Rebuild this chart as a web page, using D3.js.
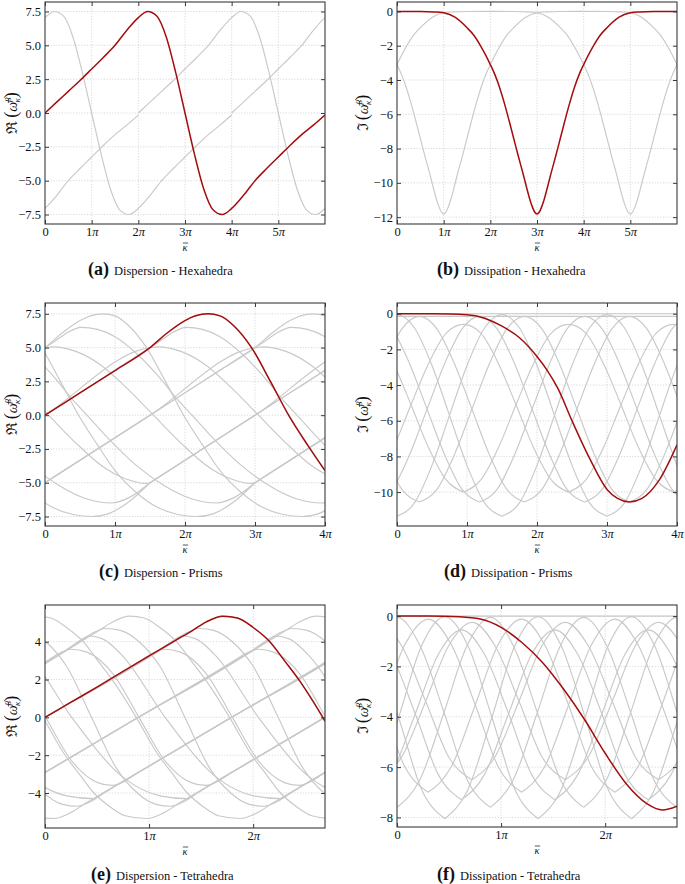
<!DOCTYPE html>
<html><head><meta charset="utf-8">
<script src="https://cdn.jsdelivr.net/npm/d3@7"></script>
<style>
body{margin:0;background:#fff;}
svg text{font-family:"Liberation Serif","Tinos","Times New Roman","DejaVu Serif",serif !important;fill:#111;}
</style></head><body>
<svg id="c" width="685" height="884"></svg>
<script>
// All kappa values are in units of pi.
// ---------------- (a) Dispersion - Hexahedra ----------------
const hexReRed = [[0,0],[0.25,0.8],[0.5,1.6],[0.75,2.4],[1,3.25],[1.25,4.1],[1.5,5.0],[1.75,6.1],[2,7.05],[2.2,7.5],[2.4,7.15],[2.6,5.6],[2.8,3.0],[3,0],[3.2,-3.0],[3.4,-5.6],[3.6,-7.15],[3.8,-7.5],[4,-7.05],[4.25,-6.1],[4.5,-5.0],[4.75,-4.1],[5,-3.25],[5.25,-2.4],[5.5,-1.6],[5.75,-0.9],[6,-0.15]];
const hexReGrayShifts = [2, 4];
const hexRePeriod = 6;
// ---------------- (b) Dissipation - Hexahedra ----------------
const hexImRed = [[0,0],[0.5,-0.005],[0.8,-0.03],[1,-0.08],[1.25,-0.35],[1.5,-0.95],[1.65,-1.4],[1.8,-2.05],[1.9,-2.55],[2.0,-3.1],[2.1,-3.7],[2.2,-4.45],[2.3,-5.35],[2.4,-6.35],[2.5,-7.4],[2.6,-8.45],[2.7,-9.45],[2.78,-10.3],[2.85,-11.0],[2.9,-11.4],[2.95,-11.7],[3,-11.82],[3.05,-11.7],[3.1,-11.4],[3.15,-11.0],[3.22,-10.3],[3.3,-9.45],[3.4,-8.45],[3.5,-7.4],[3.6,-6.35],[3.7,-5.35],[3.8,-4.45],[3.9,-3.7],[4.0,-3.1],[4.1,-2.55],[4.2,-2.05],[4.35,-1.4],[4.5,-0.95],[4.75,-0.35],[5,-0.08],[5.2,-0.03],[5.5,-0.005],[6,0]];
const hexImGrayShifts = [2, 4];
const hexImPeriod = 6;
// ---------------- (c) Dispersion - Prisms ----------------
const prismReRed = [[0,0],[0.5,1.65],[1,3.3],[1.5,5.0],[1.75,6.1],[2,7.0],[2.15,7.35],[2.33,7.5],[2.5,7.35],[2.7,6.6],[2.95,5.0],[3.22,2.5],[3.48,0],[3.75,-2.2],[4,-4.1]];
const prismReFamA = [[-1.5,-5.0],[0,0],[0.5,1.65],[1,3.3],[1.5,5.0],[1.75,6.1],[2,7.0],[2.15,7.35],[2.33,7.5],[2.5,7.35],[2.7,6.6],[2.95,5.0],[3.22,2.5],[3.48,0],[3.75,-2.2],[4,-4.1],[4.3,-5.7],[4.6,-6.8],[4.9,-7.35],[5.17,-7.5],[5.4,-7.3],[5.7,-6.4],[6.0,-5.0]];
const prismReFamB = [[-3.0,-5.0],[-1.5,0],[0,5.0],[0.15,5.5],[0.3,6.05],[0.52,6.5],[0.75,6.35],[1.0,5.8],[1.3,4.6],[1.6,3.0],[1.92,1.0],[2.1,0],[2.4,-1.7],[2.8,-3.7],[3.2,-5.2],[3.6,-6.2],[3.95,-6.5],[4.2,-6.1],[4.5,-5.0]];
const prismReFamC = [[-3.0,-5.0],[-1.5,0],[0,5.0],[0.12,5.05],[0.45,4.7],[0.8,3.7],[1.15,2.1],[1.55,0],[1.95,-2.1],[2.3,-3.7],[2.65,-4.7],[2.95,-5.05],[3.0,-5.0]];
const prismReShiftsAB = [0, 1.5, 3, 4.5, 6];
const prismReShiftsC = [0, 1.5, 3, 4.5];
const prismRePeriodAB = 7.5, prismRePeriodC = 6;
// ---------------- (d) Dissipation - Prisms ----------------
const prismImRed = [[0,0],[0.5,-0.005],[1,-0.06],[1.25,-0.25],[1.5,-0.7],[1.75,-1.35],[2.0,-2.4],[2.15,-3.2],[2.3,-4.2],[2.5,-6.0],[2.75,-8.1],[3.0,-9.85],[3.15,-10.35],[3.32,-10.55],[3.5,-10.35],[3.75,-9.3],[4,-7.35]];
const prismImFamA = [[0.32,-10.55],[0.57,-9.85],[0.82,-7.9],[1.07,-5.35],[1.32,-2.8],[1.57,-0.85],[1.82,-0.15],[2.07,-0.85],[2.32,-2.8],[2.57,-5.35],[2.82,-7.9],[3.07,-9.85],[3.32,-10.55]];
const prismImFamB = [[0,-11.35],[0.25,-10.6],[0.5,-8.5],[0.75,-5.7],[1.0,-2.9],[1.25,-0.8],[1.5,-0.05],[1.75,-0.8],[2.0,-2.9],[2.25,-5.7],[2.5,-8.5],[2.75,-10.6],[3.0,-11.35]];
const prismImFamC = [[1.18,-10.55],[1.43,-9.85],[1.68,-7.9],[1.93,-5.35],[2.18,-2.8],[2.43,-0.85],[2.68,-0.15],[2.93,-0.85],[3.18,-2.8],[3.43,-5.35],[3.68,-7.9],[3.93,-9.85],[4.18,-10.55]];
const prismImFamD = [[0.95,-10.0],[1.2,-9.3],[1.45,-7.5],[1.7,-5.1],[1.95,-2.8],[2.2,-1.1],[2.45,-0.6],[2.7,-1.1],[2.95,-2.8],[3.2,-5.1],[3.45,-7.5],[3.7,-9.3],[3.95,-10.0]];
const prismImShifts = [0, 1.5];
const prismImPeriod = 3;
const prismImFlat = [0, -0.15];
// ---------------- (e) Dispersion - Tetrahedra ----------------
const tetReRed = [[0,0],[0.25,0.8],[0.5,1.6],[0.75,2.43],[1,3.25],[1.25,4.06],[1.42,4.6],[1.55,5.05],[1.71,5.35],[1.85,5.25],[2,4.75],[2.16,4.0],[2.3,3.0],[2.45,1.9],[2.58,0.8],[2.69,-0.2]];
const tetReFamA = [[-1.42,-4.6],[0,0],[1.42,4.6],[1.55,5.05],[1.71,5.35],[1.85,5.25],[2.0,4.75],[2.16,4.0],[2.3,3.0],[2.45,1.9],[2.67,0],[2.87,-1.9],[3.02,-3.0],[3.16,-4.0],[3.32,-4.75],[3.46,-5.2],[3.67,-5.35],[3.83,-5.05],[3.96,-4.6]];
const tetReFamB = [[-1.23,-4.0],[0,0],[1.23,4.0],[1.35,4.45],[1.48,4.7],[1.62,4.6],[1.8,4.0],[2.0,2.7],[2.24,0],[2.48,-2.7],[2.68,-4.0],[2.86,-4.6],[3.0,-4.7],[3.13,-4.45],[3.25,-4.0]];
const tetReFamC = [[-1.11,-3.6],[0,0],[1.11,3.6],[1.2,3.95],[1.32,4.3],[1.45,4.15],[1.65,3.2],[2.05,0],[2.55,-3.2],[2.9,-4.15],[3.16,-4.3],[3.27,-3.95],[3.37,-3.6]];
const tetReFamD = [[-0.92,-3.0],[0,0],[0.92,3.0],[1.02,3.35],[1.15,3.6],[1.3,3.45],[1.55,2.3],[1.8,0],[2.05,-2.3],[2.3,-3.45],[2.44,-3.6],[2.57,-3.35],[2.667,-3.0]];
const tetShifts6 = [0, 0.897, 1.793, 2.69, 3.587, 4.483];
const tetShifts5 = [0, 0.897, 1.793, 2.69, 3.587];
const tetShifts4 = [0, 0.897, 1.793, 2.69];
const tetPeriod6 = 5.38, tetPeriod5 = 4.483, tetPeriod4 = 3.587;
// ---------------- (f) Dissipation - Tetrahedra ----------------
const tetImRed = [[0,0],[0.3,0],[0.6,-0.03],[0.8,-0.12],[1,-0.45],[1.2,-1.05],[1.4,-1.85],[1.6,-2.9],[1.8,-4.1],[2,-5.45],[2.2,-6.65],[2.4,-7.45],[2.55,-7.7],[2.69,-7.55]];
const tetImFam1 = [[0.46,-8.05],[0.68,-6.9],[0.91,-4.05],[1.13,-1.2],[1.357,-0.02],[1.58,-1.2],[1.81,-4.05],[2.03,-6.9],[2.253,-8.05]];
const tetImFam2 = [[0,-7.6],[0.22,-6.5],[0.45,-3.85],[0.67,-1.2],[0.897,-0.05],[1.12,-1.2],[1.35,-3.85],[1.57,-6.5],[1.793,-7.6]];
const tetImFam3 = [[0.3,-7.0],[0.52,-6.0],[0.75,-3.55],[0.97,-1.15],[1.197,-0.12],[1.42,-1.15],[1.65,-3.55],[1.87,-6.0],[2.093,-7.0]];
const tetImFam4 = [[0.72,-6.5],[0.94,-5.6],[1.17,-3.4],[1.39,-1.2],[1.617,-0.25],[1.84,-1.2],[2.07,-3.4],[2.29,-5.6],[2.513,-6.5]];
const tetImFam5 = [[0.62,-7.3],[0.84,-6.3],[1.07,-3.9],[1.29,-1.55],[1.517,-0.55],[1.74,-1.55],[1.97,-3.9],[2.19,-6.3],[2.413,-7.3]];
const tetImShifts = [0, 0.897];
const tetImPeriod = 1.793;
const tetImFlat = [0];

// ---------------- drawing ----------------
const svg = d3.select("#c");
const GRAY = "#c9c9c9", RED = "#a30d0d", FRAME = "#3a3a3a";
const SERIF = "'Liberation Serif','Tinos','Times New Roman','DejaVu Serif',serif";

function tile(profile, shifts, period, xMax) {
  const out = [];
  const a = profile[0][0], b = profile[profile.length-1][0];
  shifts.forEach(s => {
    for (let r = -5; r <= 5; r++) {
      const off = s + r * period;
      if (b + off < 0 || a + off > xMax) continue;
      out.push(profile.map(([k, v]) => [k + off, v]));
    }
  });
  return out;
}

let clipId = 0;
function panel(o) {
  const x = d3.scaleLinear().domain([0, o.xMax]).range([o.x0, o.x1]);
  const y = d3.scaleLinear().domain(o.yDom).range([o.y1, o.y0]);
  const g = svg.append("g");
  const id = "clip" + (clipId++);
  g.append("clipPath").attr("id", id).append("rect")
    .attr("x", o.x0).attr("y", o.y0).attr("width", o.x1 - o.x0).attr("height", o.y1 - o.y0);
  const grid = g.append("g").attr("stroke", "#cfcfcf").attr("stroke-width", 0.8).attr("stroke-dasharray", "1.2,1.6");
  o.xTicks.forEach(t => { if (t > 0 && t < o.xMax) grid.append("line").attr("x1", x(t)).attr("x2", x(t)).attr("y1", o.y0).attr("y2", o.y1); });
  o.yTicks.forEach(t => grid.append("line").attr("x1", o.x0).attr("x2", o.x1).attr("y1", y(t)).attr("y2", y(t)));
  const line = d3.line().x(d => x(d[0])).y(d => y(d[1])).curve(d3.curveMonotoneX);
  const cg = g.append("g").attr("clip-path", `url(#${id})`);
  o.gray.forEach(p => cg.append("path").attr("d", line(p)).attr("fill", "none").attr("stroke", GRAY).attr("stroke-width", 1.15));
  cg.append("path").attr("d", line(o.red)).attr("fill", "none").attr("stroke", RED).attr("stroke-width", 1.5);
  g.append("rect").attr("x", o.x0).attr("y", o.y0).attr("width", o.x1 - o.x0).attr("height", o.y1 - o.y0)
    .attr("fill", "none").attr("stroke", FRAME).attr("stroke-width", 1.1);
  const axB = d3.axisBottom(x).tickValues(o.xTicks).tickSize(-4).tickPadding(3.5).tickFormat(o.xFmt);
  const axT = d3.axisTop(x).tickValues(o.xTicks).tickSize(-4).tickFormat("");
  const axL = d3.axisLeft(y).tickValues(o.yTicks).tickSize(-4).tickPadding(4).tickFormat(o.yFmt);
  const axR = d3.axisRight(y).tickValues(o.yTicks).tickSize(-4).tickFormat("");
  [[axB, `translate(0,${o.y1})`], [axT, `translate(0,${o.y0})`], [axL, `translate(${o.x0},0)`], [axR, `translate(${o.x1},0)`]].forEach(([ax, tr]) => {
    const a = g.append("g").attr("transform", tr).call(ax);
    a.attr("font-family", null);
    a.select(".domain").remove();
    a.selectAll("line").attr("stroke", FRAME);
    a.selectAll("text").attr("font-size", 12.5).style("font-family", SERIF).attr("fill", "#111");
  });
  const cx = (o.x0 + o.x1) / 2, by = o.y1 + 26.5;
  g.append("text").attr("x", cx).attr("y", by).attr("text-anchor", "middle")
    .attr("font-size", 10.5).attr("font-style", "italic").style("font-family", SERIF).text("κ");
  g.append("line").attr("x1", cx - 2.2).attr("x2", cx + 3.2).attr("y1", by - 7.5).attr("y2", by - 7.5)
    .attr("stroke", "#111").attr("stroke-width", 0.7);
  const cy = (o.y0 + o.y1) / 2;
  const yl = g.append("text").attr("transform", `translate(${o.ylx},${cy}) rotate(-90)`).attr("text-anchor", "middle").style("font-family", SERIF);
  yl.append("tspan").attr("font-size", 15).text(o.yName);
  yl.append("tspan").attr("dx", 3).attr("font-size", 18).text("(");
  yl.append("tspan").attr("font-style", "italic").attr("font-size", 14).text("ω̄");
  yl.append("tspan").attr("font-size", 9).attr("font-style", "italic").attr("dy", -6).text("β");
  yl.append("tspan").attr("font-size", 9).attr("font-style", "italic").attr("dx", -5).attr("dy", 9).text("κ");
  yl.append("tspan").attr("font-size", 18).attr("dy", -3).text(")");
  const cap = g.append("text").attr("x", o.capX).attr("y", o.capY).style("font-family", SERIF);
  cap.append("tspan").attr("font-weight", "bold").attr("font-size", 18).text(o.capL);
  cap.append("tspan").attr("dx", 5).attr("font-size", 12.5).text(o.capT);
}

function fmtPi(d) { return d === 0 ? "0" : d + "π"; }
const minus = s => s.replace("-", "\u2212");
const f1 = d => minus(d3.format(".1f")(d));
const f0 = d => minus(d3.format("d")(d));

panel({x0:45, x1:325, y0:2, y1:224, xMax:6, yDom:[-8.2,8.2], yTicks:[-7.5,-5,-2.5,0,2.5,5,7.5], yFmt:f1,
  xTicks:[0,1,2,3,4,5], xFmt:fmtPi, yName:"ℜ", ylx:17,
  gray: tile(hexReRed, hexReGrayShifts, hexRePeriod, 6), red: hexReRed,
  capX:88, capY:275, capL:"(a)", capT:"Dispersion - Hexahedra"});
panel({x0:397, x1:677, y0:2, y1:224, xMax:6, yDom:[-12.4,0.55], yTicks:[-12,-10,-8,-6,-4,-2,0], yFmt:f0,
  xTicks:[0,1,2,3,4,5], xFmt:fmtPi, yName:"ℑ", ylx:368,
  gray: tile(hexImRed, hexImGrayShifts, hexImPeriod, 6), red: hexImRed,
  capX:437, capY:275, capL:"(b)", capT:"Dissipation - Hexahedra"});
panel({x0:45, x1:325, y0:303, y1:526, xMax:4, yDom:[-8.2,8.3], yTicks:[-7.5,-5,-2.5,0,2.5,5,7.5], yFmt:f1,
  xTicks:[0,1,2,3,4], xFmt:fmtPi, yName:"ℜ", ylx:17,
  gray: [].concat(tile(prismReFamA, prismReShiftsAB, prismRePeriodAB, 4), tile(prismReFamB, prismReShiftsAB, prismRePeriodAB, 4), tile(prismReFamC, prismReShiftsC, prismRePeriodC, 4)),
  red: prismReRed, capX:99, capY:577, capL:"(c)", capT:"Dispersion - Prisms"});
panel({x0:397, x1:677, y0:303, y1:526, xMax:4, yDom:[-11.9,0.6], yTicks:[-10,-8,-6,-4,-2,0], yFmt:f0,
  xTicks:[0,1,2,3,4], xFmt:fmtPi, yName:"ℑ", ylx:368,
  gray: [].concat(tile(prismImFamA, prismImShifts, prismImPeriod, 4), tile(prismImFamB, prismImShifts, prismImPeriod, 4), tile(prismImFamC, prismImShifts, prismImPeriod, 4), tile(prismImFamD, prismImShifts, prismImPeriod, 4), prismImFlat.map(v => [[0,v],[4,v]])),
  red: prismImRed, capX:444, capY:577, capL:"(d)", capT:"Dissipation - Prisms"});
panel({x0:45, x1:325, y0:605, y1:828, xMax:2.69, yDom:[-5.85,5.94], yTicks:[-4,-2,0,2,4], yFmt:f0,
  xTicks:[0,1,2], xFmt:fmtPi, yName:"ℜ", ylx:17,
  gray: [].concat(tile(tetReFamA, tetShifts6, tetPeriod6, 2.69), tile(tetReFamB, tetShifts5, tetPeriod5, 2.69), tile(tetReFamC, tetShifts5, tetPeriod5, 2.69), tile(tetReFamD, tetShifts4, tetPeriod4, 2.69)),
  red: tetReRed, capX:91, capY:880, capL:"(e)", capT:"Dispersion - Tetrahedra"});
panel({x0:397, x1:677, y0:605, y1:827, xMax:2.69, yDom:[-8.38,0.44], yTicks:[-8,-6,-4,-2,0], yFmt:f0,
  xTicks:[0,1,2], xFmt:fmtPi, yName:"ℑ", ylx:368,
  gray: [].concat(tile(tetImFam1, tetImShifts, tetImPeriod, 2.69), tile(tetImFam2, tetImShifts, tetImPeriod, 2.69), tile(tetImFam3, tetImShifts, tetImPeriod, 2.69), tile(tetImFam4, tetImShifts, tetImPeriod, 2.69), tile(tetImFam5, tetImShifts, tetImPeriod, 2.69), tetImFlat.map(v => [[0,v],[2.69,v]])),
  red: tetImRed, capX:437, capY:880, capL:"(f)", capT:"Dissipation - Tetrahedra"});

svg.selectAll(".tick text").each(function() {
  const t = d3.select(this), s = t.text();
  if (s.endsWith("π")) {
    t.text(s.slice(0, -1));
    t.append("tspan").attr("font-style", "italic").text("π");
  }
});
</script></body></html>
